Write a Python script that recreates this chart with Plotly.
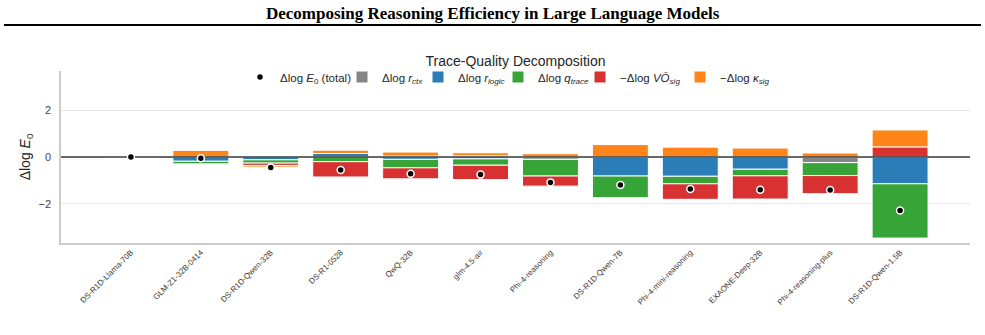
import plotly.graph_objects as go

# ---------------- data ----------------
models = ["DS-R1D-Llama-70B", "GLM-Z1-32B-0414", "DS-R1D-Qwen-32B", "DS-R1-0528",
          "QwQ-32B", "glm-4.5-air", "Phi-4-reasoning", "DS-R1D-Qwen-7B",
          "Phi-4-mini-reasoning", "EXAONE-Deep-32B", "Phi-4-reasoning-plus",
          "DS-R1D-Qwen-1.5B"]
d_ctx   = [0.00,  0.00,  0.00,  0.00,  0.04,  0.05, -0.10,  0.00,  0.00,  0.00, -0.24,  0.00]
d_logic = [0.00, -0.18, -0.12,  0.15, -0.10, -0.08,  0.00, -0.81, -0.82, -0.52,  0.00, -1.14]
d_trace = [0.00, -0.12, -0.14, -0.20, -0.36, -0.27, -0.71, -0.92, -0.32, -0.28, -0.55, -2.31]
d_vo    = [0.00, -0.02, -0.10, -0.65, -0.47, -0.61, -0.43,  0.00, -0.66, -0.99, -0.77,  0.43]
d_kappa = [0.00,  0.28, -0.07,  0.14,  0.17,  0.13,  0.14,  0.53,  0.42,  0.38,  0.17,  0.72]
d_total = [0.00, -0.05, -0.45, -0.55, -0.71, -0.75, -1.08, -1.19, -1.36, -1.39, -1.40, -2.28]
y_ticks = [-2, 0, 2]
y_tick_labels = ["\u22122", "0", "2"]
y_lim = 3.66

# ---------------- layout geometry ----------------
W, H = 985, 335
L, R, T, B = 61, 15, 71, 92
pw, ph = W - L - R, H - T - B

def px_x(p):
    return (p - L) / pw

def px_y(p):
    return (H - B - p) / ph

# pixel x where each legend entry's text starts (total, ctx, logic, trace, VO, kappa)
legend_text_px = [280, 382, 458, 538, 620, 720]
legend_names = ["legend", "legend2", "legend3", "legend4", "legend5", "legend6"]

xs = list(range(len(models)))
series = [
    (d_ctx,   "#7f7f7f", "\u0394log <i>r</i><sub><i>ctx</i></sub>"),
    (d_logic, "#1f77b4", "\u0394log <i>r</i><sub><i>logic</i></sub>"),
    (d_trace, "#2ca02c", "\u0394log <i>q</i><sub><i>trace</i></sub>"),
    (d_vo,    "#d62728", "\u2212\u0394log <i>V\u014c</i><sub><i>sig</i></sub>"),
    (d_kappa, "#ff7f0e", "\u2212\u0394log <i>\u03ba</i><sub><i>sig</i></sub>"),
]

fig = go.Figure()
for i, (vals, col, lab) in enumerate(series):
    fig.add_bar(x=xs, y=vals, width=0.8, name=lab, legend=legend_names[i + 1],
                marker=dict(color=col, line=dict(color="white", width=1)),
                opacity=0.95)

fig.add_scatter(x=[-1, len(models)], y=[0, 0], mode="lines",
                line=dict(color="#3a3a3a", width=1.3),
                showlegend=False, hoverinfo="skip")
fig.add_scatter(x=xs, y=d_total, mode="markers", legend="legend",
                name="\u0394log <i>E</i><sub>0</sub> (total)",
                marker=dict(color="black", size=7,
                            line=dict(color="white", width=1.5)))

font = "Liberation Sans, Arial, sans-serif"
legend_layout = {}
for nm, tx in zip(legend_names, legend_text_px):
    legend_layout[nm] = dict(orientation="h", x=px_x(tx - 40), xanchor="left",
                             y=px_y(77), yanchor="middle",
                             font=dict(size=11.5, color="#262626"),
                             bgcolor="rgba(0,0,0,0)", itemwidth=30)

fig.update_layout(
    width=W, height=H,
    margin=dict(l=L, r=R, t=T, b=B, pad=0),
    barmode="relative",
    plot_bgcolor="white", paper_bgcolor="white",
    font=dict(family=font, color="#262626"),
    title=dict(text="Trace-Quality Decomposition", font=dict(size=14, color="#262626"),
               x=0.5, xref="paper", xanchor="center",
               y=1 - 61 / H, yref="container", yanchor="middle"),
    showlegend=True,
    xaxis=dict(range=[-1, len(models)], tickmode="array", tickvals=xs, ticktext=models,
               tickangle=-45, tickfont=dict(size=8, color="#3a3a3a"),
               showgrid=False, zeroline=False, showline=True,
               linecolor="#cccccc", linewidth=1.5, ticks=""),
    yaxis=dict(range=[-y_lim, y_lim], tickmode="array", tickvals=y_ticks,
               ticktext=y_tick_labels, tickfont=dict(size=11, color="#444444"),
               showgrid=True, gridcolor="#e8e8e8", gridwidth=1, zeroline=False,
               showline=True, linecolor="#cccccc", linewidth=1.5, ticks="",
               ticklabelstandoff=6,
               title=dict(text="\u0394log <i>E</i><sub>0</sub>", font=dict(size=14, color="#262626"),
                          standoff=5)),
    **legend_layout,
)

fig.add_annotation(text="<b>Decomposing Reasoning Efficiency in Large Language Models</b>",
                   xref="paper", yref="paper", x=px_x(492.5), y=px_y(13),
                   xanchor="center", yanchor="middle", showarrow=False,
                   font=dict(family="Liberation Serif, Times New Roman, serif", size=17, color="black"))
fig.add_shape(type="line", xref="paper", yref="paper",
              x0=px_x(4), x1=px_x(981), y0=px_y(25), y1=px_y(25),
              line=dict(color="black", width=2))

fig.write_html("out.html")
